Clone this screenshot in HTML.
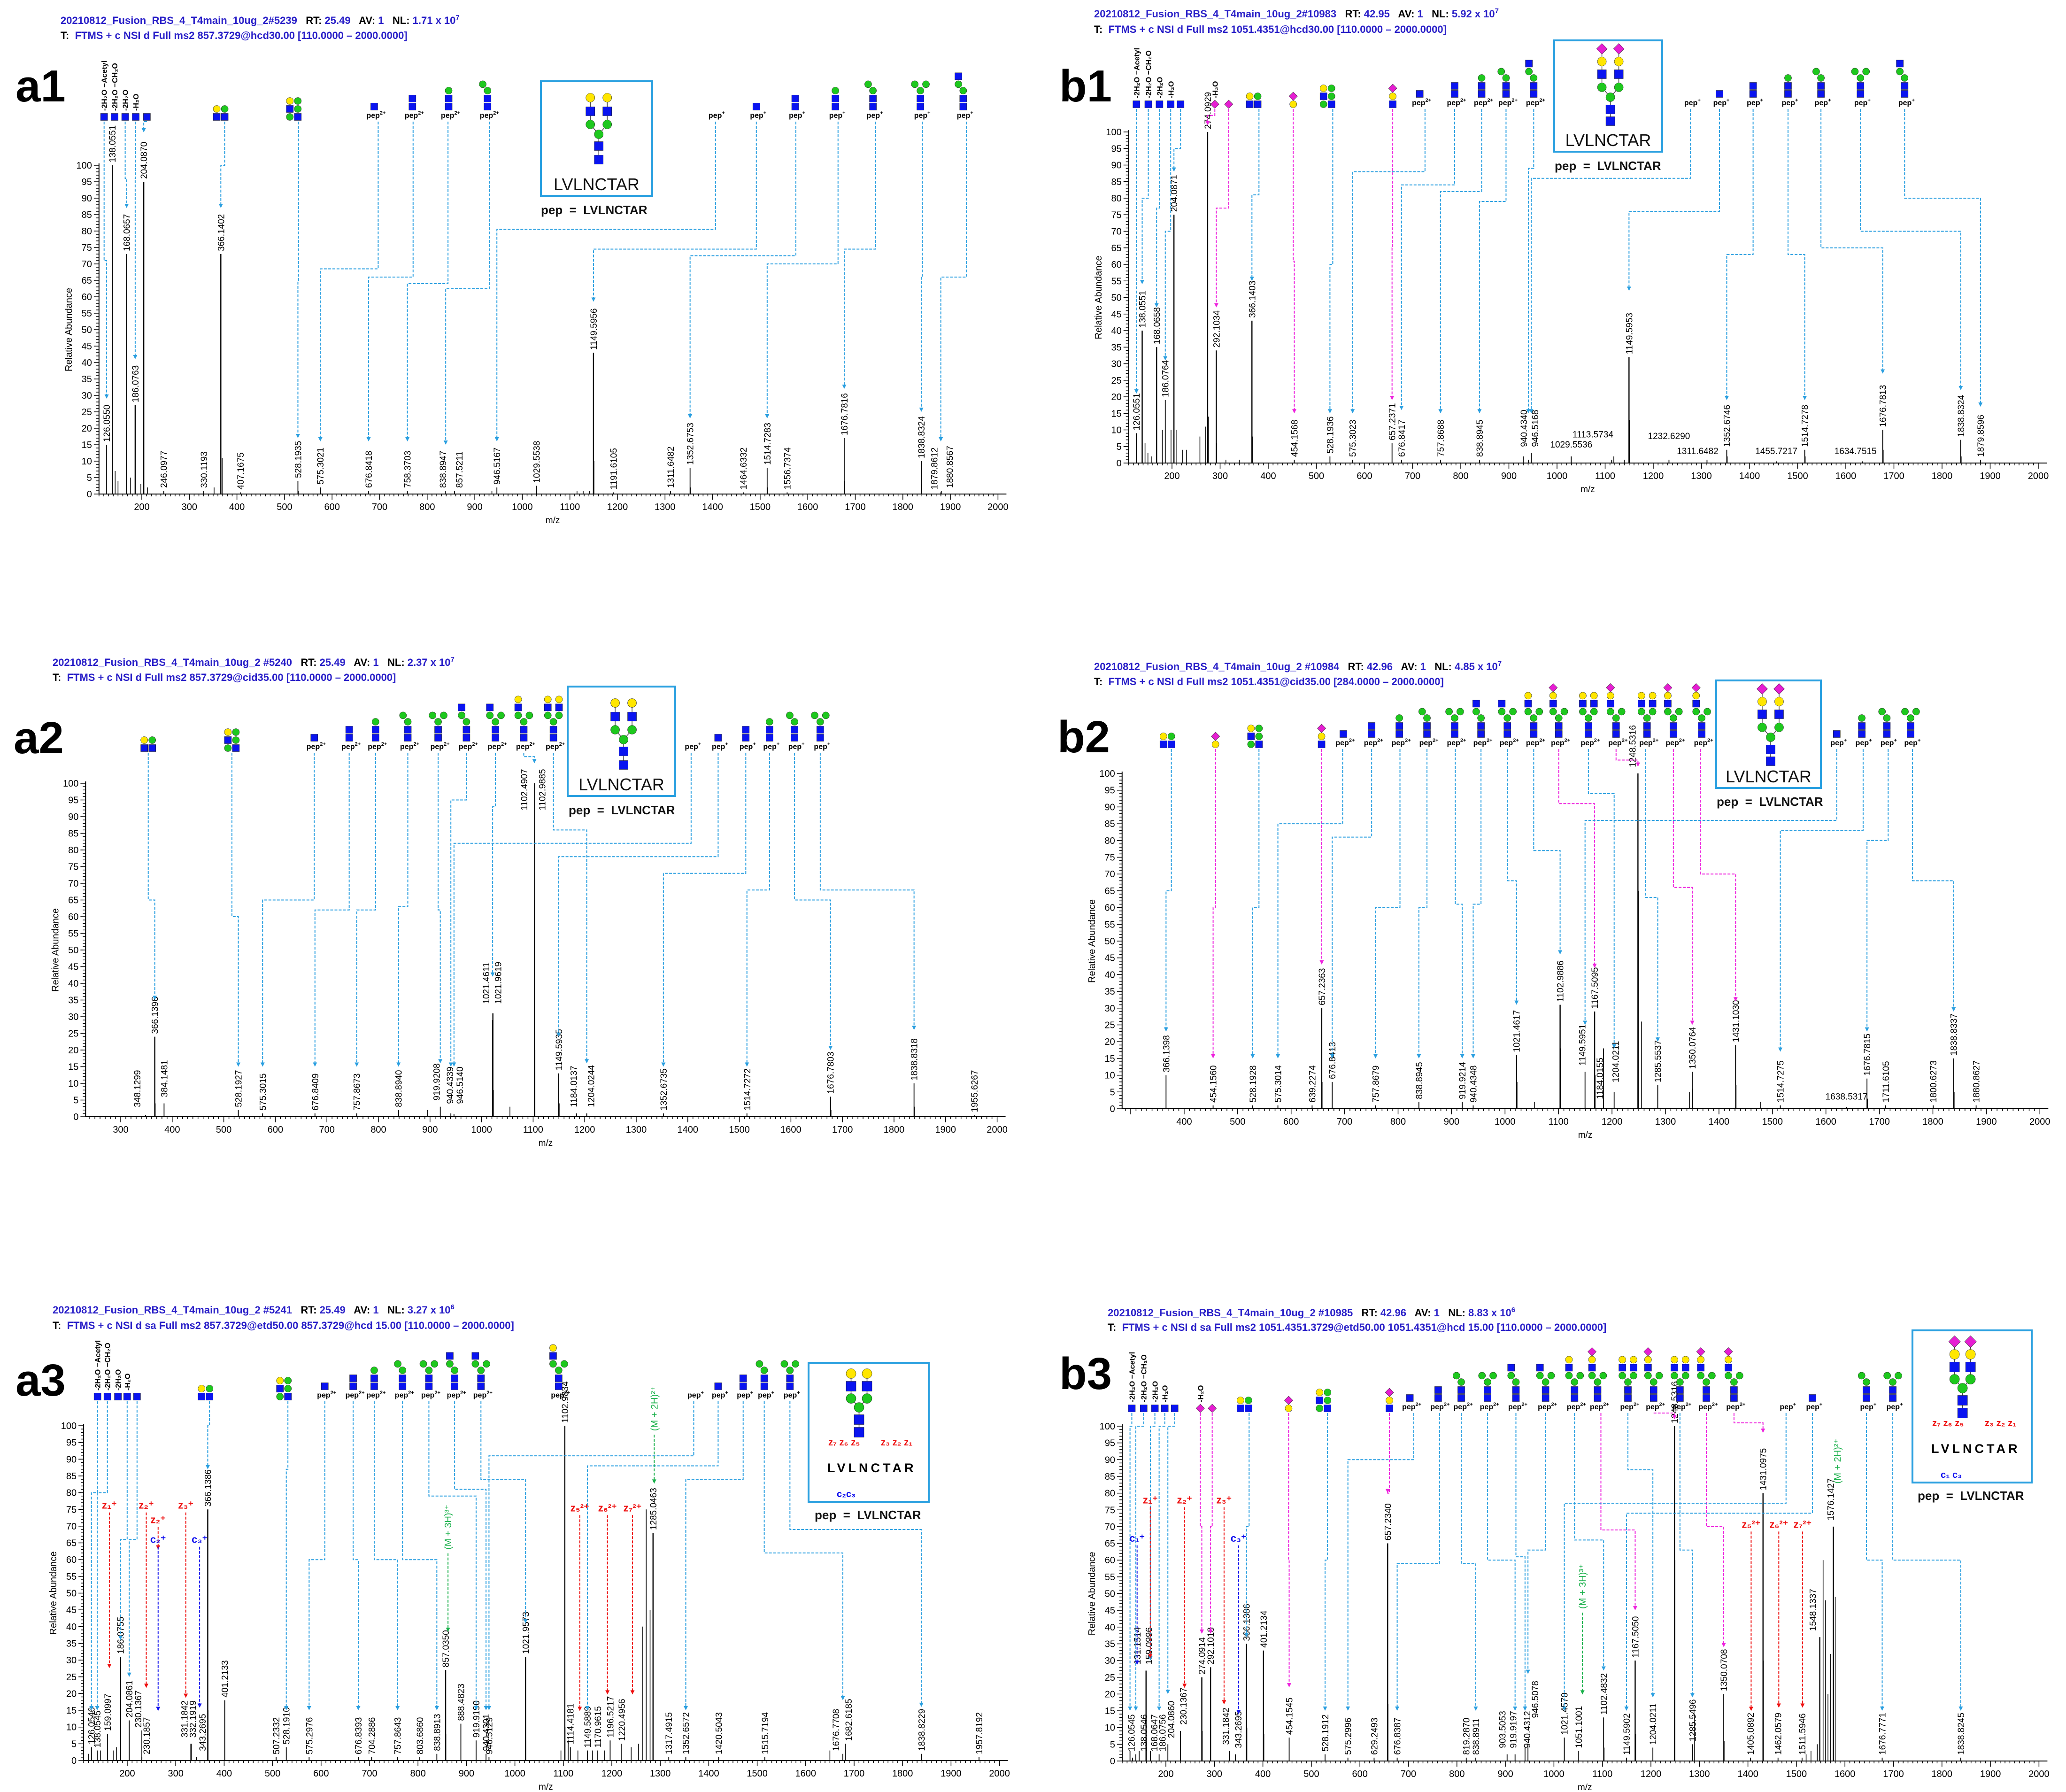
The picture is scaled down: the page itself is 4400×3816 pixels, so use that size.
<!DOCTYPE html>
<html><head><meta charset="utf-8"><title>Glycopeptide MS2 spectra</title>
<style>
html,body{margin:0;padding:0;background:#fff;}
svg{display:block;font-family:"Liberation Sans",Arial,sans-serif;}
.t{white-space:pre;}
</style></head>
<body>
<svg id="chart" xmlns="http://www.w3.org/2000/svg" width="4400" height="3816" viewBox="0 0 4400 3816">
<rect x="0" y="0" width="4400" height="3816" fill="#fff"/>
</svg>
<script>
// ---------- data: a1 ----------
const a1Mz=[126.0550,138.0551,168.0657,186.0763,204.0870,246.0977,330.1193,366.1402,407.1675,528.1935,575.3021,676.8418,758.3703,838.8947,857.5211,946.5167,1029.5538,1149.5956,1191.6105,1311.6482,1352.6753,1464.6332,1514.7283,1556.7374,1676.7816,1838.8324,1879.8612,1880.8567];
const a1Int=[15,100,73,27,95,1,1,73,0.5,4,2,1,1,1,1,2,2.5,43,0.5,1,8,0.5,8,0.5,17,10,0.5,1];
const a1MinorMz=[144,150,176,198,212,352,369,530,1150.6,1128,1141,1353.7,1515.7,1677.8,1839.8,1030,936,1115];
const a1MinorInt=[7,4,5,3,2,2,11,1,10,1,1,2,2,4,3,1,1,1];
// ---------- data: a2 ----------
const a2Mz=[348.1299,366.1396,384.1481,528.1927,575.3015,676.8409,757.8673,838.8940,919.9208,940.4339,946.5140,1021.4611,1021.9619,1102.4907,1102.9885,1149.5935,1184.0137,1204.0244,1352.6735,1514.7272,1676.7803,1838.8318,1955.6267];
const a2Int=[0.5,24,4,2,1,1,1,2,3,1,0.8,29,31,65,100,13,1,1,1,1,6,10,0.5];
const a2MinorMz=[895,1055,1103.5,1150.6,1022.9,1677.8,1839.8,367];
const a2MinorInt=[2,3,20,4,8,2,3,4];
// ---------- data: a3 ----------
const a3Mz=[126.0546,138.0545,159.0997,186.0755,204.0861,230.1367,230.1857,331.1842,332.1919,343.2695,366.1386,401.2133,507.2332,528.1910,575.2976,676.8393,704.2886,757.8643,803.6860,838.8913,857.0350,888.4823,919.9190,940.4301,946.5129,1021.9573,1102.9834,1114.4181,1149.5889,1170.9615,1196.5217,1220.4956,1285.0463,1317.4915,1352.6572,1420.5043,1515.7194,1676.7708,1682.6185,1838.8229,1957.8192];
const a3Int=[4,3,8,31,12,9,1,5,5,1,75,18,1,4,1,1,1,1,1,2,27,11,6,2,1,31,100,4,3,3,6,5,68,1,1,1,1,2,5,2,1];
const a3MinorMz=[1263,1271,1279,1255,1240,1185,1160,1103.5,1110,1095,366.8,857.5,1022.5,1650,145,172,178,120,1130];
const a3MinorInt=[40,75,45,5,4,3,3,10,6,3,15,8,6,3,3,3,4,2,3];
// ---------- data: b1 ----------
const b1Mz=[126.0551,138.0551,168.0658,186.0764,204.0871,274.0929,292.1034,366.1403,454.1568,528.1936,575.3023,657.2371,676.8417,757.8688,838.8945,940.4340,946.5168,1029.5536,1113.5734,1149.5953,1232.6290,1311.6482,1352.6746,1455.7217,1514.7278,1634.7515,1676.7813,1838.8324,1879.8596];
const b1Int=[9,40,35,19,75,100,34,43,1,2,1,6,1,1,1,1,3,2,1,32,1,1,4,0.5,4,0.5,10,7,1];
const b1MinorMz=[144,150,158,180,198,210,222,230,258,270,276,293,367,312,340,1150.6,1677.8,1839.8,1353.7,1515.7,1118,1140,930];
const b1MinorInt=[6,3,2,10,10,10,4,4,8,11,14,6,8,1,1,13,4,2,2,2,2,1,2];
// ---------- data: b2 ----------
const b2Mz=[366.1398,454.1560,528.1928,575.3014,639.2274,657.2363,676.8413,757.8679,838.8945,919.9214,940.4348,1021.4617,1102.9886,1149.5951,1167.5095,1184.0155,1204.0211,1248.5316,1285.5537,1350.0764,1431.1030,1514.7275,1638.5317,1676.7815,1711.6105,1800.6273,1838.8337,1880.8627];
const b2Int=[10,1,1,1,1,30,8,1,2,2,1,16,31,11,29,18,5,100,7,11,19,1,0.5,9,1,1,15,1];
const b2MinorMz=[1255,1345,1478,1103.5,1022.5,1249.5,1168.5,1350.6,1432,1677.8,1839.8,658,1055];
const b2MinorInt=[26,5,2,18,8,65,10,6,7,3,5,8,2];
// ---------- data: b3 ----------
const b3Mz=[126.0545,131.1514,138.0546,159.0996,168.0647,186.0756,204.0860,230.1367,274.0914,292.1018,331.1842,343.2695,366.1386,401.2134,454.1545,528.1912,575.2996,629.2493,657.2340,676.8387,819.2870,838.8911,903.5053,919.9197,940.4312,946.5078,1021.4570,1051.1001,1102.4832,1149.5902,1167.5050,1204.0211,1248.5316,1285.5496,1350.0708,1405.0892,1431.0975,1462.0579,1511.5946,1548.1337,1576.1427,1676.7771,1838.8245];
const b3Int=[3,1,2,27,3,2,5,9,25,28,3,2,35,33,7,2,1,1,65,1,1,1,2,2,4,5,7,3,13,1,30,4,100,5,20,1,80,1,1,37,70,1,1];
const b3MinorMz=[1555,1560,1570,1580,1543,1290,1249.5,1432,1168.5,1103.5,658,367,402,275,160,145,1351,1530,1520,1565];
const b3MinorInt=[60,48,32,49,5,14,60,30,8,4,17,10,8,9,6,3,6,3,2,20];

// ---------- annotation layout (label overrides: [dx px, height %]) ----------
const a1LabelAdj={'838.8947':[-6,1],'857.5211':[10,1],'1879.8612':[-14,0.5],'1880.8567':[18,1]};
const a2LabelAdj={'1102.4907':[-22,91],'1102.9885':[16,91],'1021.4611':[-14,33],'1021.9619':[11,33],'919.9208':[-8,4],'940.4339':[-2,3],'946.5140':[12,3],'1184.0137':[-6,2],'1204.0244':[9,2],'348.1299':[-18,2],'384.1481':[0,5]};
const a3LabelAdj={'230.1367':[-8,9],'230.1857':[10,1],'331.1842':[-14,6],'332.1919':[3,6],'343.2695':[12,2],'1676.7708':[-15,2],'1682.6185':[6,5]};
const b1LabelAdj={'940.4340':[-10,4],'946.5168':[8,4],'1029.5536':[0,4],'1113.5734':[-40,7],'1232.6290':[0,6.5],'1311.6482':[-20,2],'1455.7217':[0,2],'1634.7515':[-15,2]};
const b2LabelAdj={'1149.5951':[-6,12],'1184.0155':[-8,2],'1204.0211':[3,7],'1248.5316':[-12,101],'1638.5317':[0,2]};
const b3LabelAdj={'126.0545':[3,2],'131.1514':[10,28],'138.0546':[17,2],'159.0996':[6,28],'168.0647':[8,2],'186.0756':[7,2],'204.0860':[7,6],'230.1367':[6,10],'331.1842':[-8,4],'343.2695':[6,3],'903.5053':[-10,3],'919.9197':[-4,3],'940.4312':[4,3],'946.5078':[15,12],'1548.1337':[-15,38],'1576.1427':[-6,71]};
const b1Horiz=['1029.5536','1113.5734','1232.6290','1311.6482','1455.7217','1634.7515'];
const b2Horiz=['1638.5317'];

// icons: [zoom-x, template, ion label]
const a1Icons=[[158,'N',''],[174,'N',''],[190,'N',''],[206,'N',''],[223,'N',''],[335,'GG',''],[446,'G3',''],[568,'N','2+'],[626,'NN','2+'],[681,'NNM','2+'],[740,'NNMM','2+'],[1085,'','+'],[1148,'N','+'],[1207,'NN','+'],[1268,'NNM','+'],[1325,'NNMM','+'],[1397,'NN3M','+'],[1462,'NNMMN','+']];
const a2Icons=[[225,'GG',''],[352,'G3',''],[477,'N','2+'],[530,'NN','2+'],[570,'NNM','2+'],[619,'NNMM','2+'],[665,'NN3M','2+'],[708,'NNMMN','2+'],[752,'NN3MN','2+'],[795,'NN3MNY','2+'],[840,'BIGA','2+'],[1049,'','+'],[1090,'N','+'],[1132,'NN','+'],[1168,'NNM','+'],[1206,'NNMM','+'],[1245,'NN3M','+']];
const a3Icons=[[148,'N',''],[163,'N',''],[179,'N',''],[193,'N',''],[208,'N',''],[312,'GG',''],[431,'G3',''],[493,'N','2+'],[536,'NN','2+'],[568,'NNM','2+'],[611,'NNMM','2+'],[651,'NN3M','2+'],[690,'NNMMN','2+'],[730,'NN3MN','2+'],[848,'NN3MNY','2+'],[1053,'','+'],[1090,'N','+'],[1128,'NN','+'],[1160,'NNMM','+'],[1199,'NN3M','+']];
const b1Icons=[[157,'N',''],[175,'N',''],[192,'N',''],[209,'N',''],[224,'N',''],[276,'D',''],[297,'D',''],[335,'GG',''],[395,'DY',''],[447,'G3',''],[546,'DYN',''],[587,'N','2+'],[640,'NN','2+'],[681,'NNM','2+'],[718,'NNMM','2+'],[760,'NNMMN','2+'],[998,'','+'],[1042,'N','+'],[1093,'NN','+'],[1146,'NNM','+'],[1196,'NNMM','+'],[1256,'NN3M','+'],[1323,'NNMMN','+']];
const b2Icons=[[204,'GG',''],[277,'DY',''],[337,'G3',''],[438,'DYN',''],[471,'N','2+'],[514,'NN','2+'],[556,'NNM','2+'],[598,'NNMM','2+'],[640,'NN3M','2+'],[680,'NNMMN','2+'],[720,'NN3MN','2+'],[760,'NN3MNY','2+'],[798,'BIGS','2+'],[843,'BIGA','2+'],[885,'BIGS','2+'],[932,'BIGA','2+'],[972,'BIGS','2+'],[1015,'BIGS','2+'],[1220,'N','+'],[1258,'NNM','+'],[1296,'NNMM','+'],[1332,'NN3M','+']];
const b3Icons=[[150,'N',''],[168,'N',''],[185,'N',''],[200,'N',''],[215,'N',''],[254,'D',''],[272,'D',''],[321,'GG',''],[388,'DY',''],[441,'G3',''],[541,'DYN',''],[572,'N','2+'],[615,'NN','2+'],[650,'NNMM','2+'],[690,'NN3M','2+'],[733,'NNMMN','2+'],[778,'NN3MN','2+'],[822,'NN3MNY','2+'],[857,'BIGS','2+'],[903,'BIGA','2+'],[942,'BIGS','2+'],[982,'BIGA','2+'],[1022,'BIGS','2+'],[1064,'BIGS','2+'],[1143,'','+'],[1183,'N','+'],[1265,'NNMM','+'],[1305,'NN3M','+']];

// rotated neutral-loss texts: [zoom-x, text]
const a1Rot=[[158,'-2H₂O −Acetyl'],[174,'-2H₂O −CH₂O'],[190,'-2H₂O'],[206,'-H₂O']];
const a3Rot=[[148,'-2H₂O −Acetyl'],[163,'-2H₂O −CH₂O'],[179,'-2H₂O'],[193,'-H₂O']];
const b1Rot=[[157,'-2H₂O −Acetyl'],[175,'-2H₂O −CH₂O'],[192,'-2H₂O'],[209,'-H₂O'],[276,'-H₂O']];
const b3Rot=[[150,'-2H₂O −Acetyl'],[168,'-2H₂O −CH₂O'],[185,'-2H₂O'],[200,'-H₂O'],[254,'-H₂O']];

// connectors: [icon zoom-x, step %, target m/z, arrow end %, color]
const a1Conns=[[158,71,126.055,29,'b'],[190,96,168.0657,87,'b'],[206,96,186.0763,41,'b'],[223,120,204.087,110,'b'],[341,100,366.1402,87,'b'],[453,65,528.1935,17,'b'],[574,68.5,575.3021,16,'b'],[627,66,676.8418,16,'b'],[680,64,758.3703,16,'b'],[743,62.5,838.8947,15,'b'],[1086,80.5,946.5167,16,'b'],[1148,74.5,1149.5956,58.5,'b'],[1208,72.5,1352.6753,23,'b'],[1272,70,1514.7283,23,'b'],[1329,74.5,1676.7816,32,'b'],[1400,66,1838.8324,25,'b'],[1467,66,1879.8612,16,'b']];
const a2Conns=[[225,65,366.1396,35,'b'],[352,60,528.1927,15,'b'],[477,65,575.3015,15,'b'],[530,62,676.8409,15,'b'],[570,62,757.8673,15,'b'],[619,63,838.894,15,'b'],[665,62,919.9208,16,'b'],[708,95,940.4339,15,'b'],[752,93,1021.4611,42,'b'],[795,108,1102.4907,106,'b'],[840,86,1204.0244,16,'b'],[1049,82,946.514,15,'b'],[1090,78,1149.5935,24,'b'],[1132,73,1352.6735,15,'b'],[1168,68,1514.7272,15,'b'],[1206,65,1676.7803,20,'b'],[1245,68,1838.8318,26,'b']];
const a3Conns=[[148,80,126.0546,15,'b'],[163,80,138.0545,15,'b'],[193,66,186.0755,36,'b'],[208,66,204.0861,25,'b'],[318,100,366.1386,87,'b'],[437,87,528.191,15,'b'],[493,60,575.2976,15,'b'],[536,60,676.8393,15,'b'],[568,60,757.8643,15,'b'],[611,60,838.8913,15,'b'],[651,79,919.919,15,'b'],[690,81,940.4301,15,'b'],[730,84,1021.9573,41,'b'],[1053,91,946.5129,15,'b'],[1090,88,1149.5889,15,'b'],[1128,84,1352.6572,15,'b'],[1160,62,1676.7708,18,'b'],[1199,69,1838.8229,16,'b']];
const b1Conns=[[157,100,126.0551,21,'b'],[175,80,138.0551,54,'b'],[192,77,168.0658,47,'b'],[209,70,186.0764,31,'b'],[224,95,204.0871,88,'b'],[276,105,274.0929,102,'m'],[297,77,292.1034,47,'m'],[343,81,366.1403,55,'b'],[395,61,454.1568,15,'m'],[455,60,528.1936,15,'b'],[546,65,657.2371,19,'m'],[595,88,575.3023,15,'b'],[640,84,676.8417,16,'b'],[681,82,757.8688,15,'b'],[718,79,838.8945,15,'b'],[760,89,940.434,15,'b'],[998,86,946.5168,15,'b'],[1042,76,1149.5953,52,'b'],[1093,63,1352.6746,19,'b'],[1146,63,1514.7278,19,'b'],[1196,65,1676.7813,27,'b'],[1256,70,1838.8324,22,'b'],[1323,80,1879.8596,17,'b']];
const b2Conns=[[210,65,366.1398,23,'b'],[277,60,454.156,15,'m'],[343,60,528.1928,15,'b'],[438,75,657.2363,43,'m'],[470,85,575.3014,15,'b'],[514,81,676.8413,15,'b'],[557,60,757.8679,15,'b'],[598,60,838.8945,15,'b'],[641,61,919.9214,15,'b'],[680,61,940.4348,15,'b'],[720,68,1021.4617,31,'b'],[760,77,1102.9886,46,'b'],[798,91,1167.5095,42,'m'],[843,94,1204.0211,18,'b'],[885,104,1248.5316,102,'m'],[930,63,1285.5537,20,'b'],[972,66,1350.0764,25,'m'],[1013,70,1431.103,32,'m'],[1220,86,1149.5951,25,'b'],[1260,83,1514.7275,17,'b'],[1298,80,1676.7815,23,'b'],[1335,68,1838.8337,29,'b']];
const b3Conns=[[150,100,126.0545,15,'b'],[168,100,138.0546,15,'b'],[185,100,168.0647,30,'b'],[200,100,186.0756,15,'b'],[215,100,204.086,20,'b'],[254,70,274.0914,38,'m'],[272,70,292.1018,38,'m'],[328,70,366.1386,37,'b'],[388,60,454.1545,22,'m'],[447,60,528.1912,15,'b'],[541,80,657.234,80,'m'],[578,90,575.2996,15,'b'],[617,59,676.8387,15,'b'],[650,59,838.8911,15,'b'],[690,60,919.9197,15,'b'],[733,61,940.4312,15,'b'],[778,63,946.5078,26,'b'],[822,66,1102.4832,27,'b'],[862,69,1167.505,45,'m'],[903,87,1204.0211,19,'b'],[942,104,1248.5316,102,'m'],[982,63,1285.5496,19,'b'],[1022,70,1350.0708,34,'m'],[1064,101,1431.0975,98,'m'],[1143,77,1021.457,15,'b'],[1183,74,1149.5902,15,'b'],[1265,60,1676.7771,15,'b'],[1305,60,1838.8245,15,'b']];

// fragment annotations: [label, zoom-x, zoom-y top, zoom-y end, color, rotated]
const a3Frag=[['z₁⁺',166,1138,1380,'r',0],['z₂⁺',222,1138,1410,'r',0],['z₂⁺',240,1160,1200,'r',0],['c₂⁺',240,1190,1445,'c',0],['z₃⁺',282,1138,1425,'r',0],['c₃⁺',303,1190,1440,'c',0],['z₅²⁺',880,1142,1445,'r',0],['z₆²⁺',922,1142,1420,'r',0],['z₇²⁺',960,1142,1420,'r',0],['(M + 3H)³⁺',680,1200,1325,'g',1],['(M + 2H)²⁺',993,1020,1100,'g',1]];
const b3Frag=[['z₁⁺',178,1130,1365,'r',0],['c₁⁺',158,1188,1375,'c',0],['z₂⁺',230,1130,1410,'r',0],['z₃⁺',290,1130,1435,'r',0],['c₃⁺',312,1188,1450,'c',0],['z₅²⁺',1090,1167,1445,'r',0],['z₆²⁺',1132,1167,1440,'r',0],['z₇²⁺',1168,1167,1440,'r',0],['(M + 3H)³⁺',834,1290,1420,'g',1],['(M + 2H)²⁺',1221,1100,1100,'g',1]];

const TPL={
 'N':[['s',0,0]],
 'NN':[['s',0,0],['s',0,1]],
 'NNM':[['s',0,0],['s',0,1],['g',0,2]],
 'NNMM':[['s',0,0],['s',0,1],['g',0,2],['g',-0.6,2.8]],
 'NN3M':[['s',0,0],['s',0,1],['g',0,2],['g',-0.7,2.8],['g',0.7,2.8]],
 'NNMMN':[['s',0,0],['s',0,1],['g',0,2],['g',-0.6,2.8],['s',-0.6,3.8]],
 'NN3MN':[['s',0,0],['s',0,1],['g',0,2],['g',-0.7,2.8],['g',0.7,2.8],['s',-0.7,3.8]],
 'NN3MNY':[['s',0,0],['s',0,1],['g',0,2],['g',-0.7,2.8],['g',0.7,2.8],['s',-0.7,3.8],['y',-0.7,4.8]],
 'BIGA':[['s',0,0],['s',0,1],['g',0,2],['g',-0.7,2.8],['g',0.7,2.8],['s',-0.7,3.8],['s',0.7,3.8],['y',-0.7,4.8],['y',0.7,4.8]],
 'BIGS':[['s',0,0],['s',0,1],['g',0,2],['g',-0.7,2.8],['g',0.7,2.8],['s',-0.7,3.8],['y',-0.7,4.8],['d',-0.7,5.8]],
 'GG':[['s',-0.5,0],['s',0.5,0],['y',-0.5,1],['g',0.5,1]],
 'G3':[['g',-0.5,0],['s',0.5,0],['s',-0.5,1],['g',0.5,1],['y',-0.5,2],['g',0.5,2]],
 'D':[['d',0,0]],
 'DY':[['y',0,0],['d',0,1]],
 'DYN':[['s',0,0],['y',0,1],['d',0,2]],
 '':[]
};

const panels=[
 {id:'a1',x200:302,per100:101.3,y0:1052,y100:352,mzMin:110,zx:0,zy:0,iconY:249,
  file:'20210812_Fusion_RBS_4_T4main_10ug_2#5239',rt:'25.49',nl:'1.71',ex:'7',scan:'FTMS + c NSI d Full ms2 857.3729@hcd30.00 [110.0000 – 2000.0000]',
  tx:129,ty1:51,ty2:83,lab:'a1',lx:33,ly:216,box:[1152,173,237,244],sia:false,frag:false,pep:[1152,456],
  mz:a1Mz,int:a1Int,mmz:a1MinorMz,mint:a1MinorInt,adj:a1LabelAdj,horiz:[],icons:a1Icons,rot:a1Rot,conns:a1Conns,frags:null},
 {id:'a2',x200:147.2,per100:109.8,y0:2378,y100:1668,mzMin:232,zx:0,zy:0,iconY:1593,
  file:'20210812_Fusion_RBS_4_T4main_10ug_2 #5240',rt:'25.49',nl:'2.37',ex:'7',scan:'FTMS + c NSI d Full ms2 857.3729@cid35.00 [110.0000 – 2000.0000]',
  tx:112,ty1:1418,ty2:1450,lab:'a2',lx:29,ly:1604,box:[1209,1462,229,233],sia:false,frag:false,pep:[1211,1734],
  mz:a2Mz,int:a2Int,mmz:a2MinorMz,mint:a2MinorInt,adj:a2LabelAdj,horiz:[],icons:a2Icons,rot:[],conns:a2Conns,frags:null},
 {id:'a3',x200:271,per100:103.2,y0:3749,y100:3036,mzMin:110,zx:0,zy:1616,iconY:2974,
  file:'20210812_Fusion_RBS_4_T4main_10ug_2 #5241',rt:'25.49',nl:'3.27',ex:'6',scan:'FTMS + c NSI d sa Full ms2 857.3729@etd50.00 857.3729@hcd 15.00 [110.0000 – 2000.0000]',
  tx:112,ty1:2797,ty2:2830,lab:'a3',lx:33,ly:2972,box:[1722,2902,256,296],sia:false,frag:true,pep:[1735,3235],
  mz:a3Mz,int:a3Int,mmz:a3MinorMz,mint:a3MinorInt,adj:a3LabelAdj,horiz:[],icons:a3Icons,rot:a3Rot,conns:a3Conns,frags:a3Frag},
 {id:'b1',x200:2496,per100:102.5,y0:986,y100:281,mzMin:110,zx:2200,zy:0,iconY:222,
  file:'20210812_Fusion_RBS_4_T4main_10ug_2#10983',rt:'42.95',nl:'5.92',ex:'7',scan:'FTMS + c NSI d Full ms2 1051.4351@hcd30.00 [110.0000 – 2000.0000]',
  tx:2330,ty1:37,ty2:70,lab:'b1',lx:2256,ly:216,box:[3310,86,230,237],sia:true,frag:false,pep:[3311,362],
  mz:b1Mz,int:b1Int,mmz:b1MinorMz,mint:b1MinorInt,adj:b1LabelAdj,horiz:b1Horiz,icons:b1Icons,rot:b1Rot,conns:b1Conns,frags:null},
 {id:'b2',x200:2294.1,per100:113.9,y0:2361,y100:1647,mzMin:284,zx:2200,zy:0,iconY:1585,
  file:'20210812_Fusion_RBS_4_T4main_10ug_2 #10984',rt:'42.96',nl:'4.85',ex:'7',scan:'FTMS + c NSI d Full ms2 1051.4351@cid35.00 [284.0000 – 2000.0000]',
  tx:2330,ty1:1427,ty2:1459,lab:'b2',lx:2252,ly:1602,box:[3655,1449,223,229],sia:true,frag:false,pep:[3656,1716],
  mz:b2Mz,int:b2Int,mmz:b2MinorMz,mint:b2MinorInt,adj:b2LabelAdj,horiz:b2Horiz,icons:b2Icons,rot:[],conns:b2Conns,frags:null},
 {id:'b3',x200:2483,per100:103.3,y0:3750,y100:3037,mzMin:110,zx:2200,zy:1616,iconY:2999,
  file:'20210812_Fusion_RBS_4_T4main_10ug_2 #10985',rt:'42.96',nl:'8.83',ex:'6',scan:'FTMS + c NSI d sa Full ms2 1051.4351.3729@etd50.00 1051.4351@hcd 15.00 [110.0000 – 2000.0000]',
  tx:2359,ty1:2803,ty2:2834,lab:'b3',lx:2256,ly:2958,box:[4073,2833,254,324],sia:true,frag:true,pep:[4084,3194],
  mz:b3Mz,int:b3Int,mmz:b3MinorMz,mint:b3MinorInt,adj:b3LabelAdj,horiz:[],icons:b3Icons,rot:b3Rot,conns:b3Conns,frags:b3Frag}
];

const NS='http://www.w3.org/2000/svg';
const svg=document.getElementById('chart');
const ZF=1/0.7127;
const BLUE='#2a20c8', CON='#2a9fe0', MAG='#ee22dd';
const COL={r:'#ee1111',c:'#1010ee',g:'#19b04a',b:CON,m:MAG};
function mk(tag,attrs,parent){const e=document.createElementNS(NS,tag);for(const k in attrs)e.setAttribute(k,attrs[k]);parent.appendChild(e);return e;}

function shape(g,kind,cx,cy,sz){
  let e;
  if(kind==='s'){e=mk('rect',{x:cx-sz/2,y:cy-sz/2,width:sz,height:sz,fill:'#0a14f0',stroke:'#222','stroke-width':0.6},g);}
  else if(kind==='g'){e=mk('circle',{cx:cx,cy:cy,r:sz/2,fill:'#1ec81e',stroke:'#222','stroke-width':0.6},g);}
  else if(kind==='y'){e=mk('circle',{cx:cx,cy:cy,r:sz/2,fill:'#ffe600',stroke:'#222','stroke-width':0.6},g);}
  else {const h=sz*0.6;e=mk('polygon',{points:(cx)+','+(cy-h)+' '+(cx+h)+','+cy+' '+cx+','+(cy+h)+' '+(cx-h)+','+cy,fill:'#e61ed2',stroke:'#222','stroke-width':0.6},g);}
  
  
}
function arrow(g,x,y,col){
  const a=mk('polygon',{points:(x-4.5)+','+(y-9)+' '+(x+4.5)+','+(y-9)+' '+x+','+y,fill:col},g);
  
  
}

function draw(p){
  const g=mk('g',{},svg);
  
  
  const X=mz=>p.x200+(mz-200)*p.per100/100;
  const Y=v=>p.y0-v*(p.y0-p.y100)/100;
  const xl=X(p.mzMin), xr=X(2000)+18;

  const t1=mk('text',{x:p.tx,y:p.ty1,'font-size':22,'font-weight':'bold',class:'t'},g);
  
  
  const segs=[[p.file,BLUE],['   RT: ','#000'],[p.rt,BLUE],['   AV: ','#000'],['1',BLUE],['   NL: ','#000'],[p.nl+' x 10',BLUE]];
  segs.forEach(s=>{const ts=mk('tspan',{fill:s[1]},t1);ts.textContent=s[0];});
  const sup=mk('tspan',{fill:BLUE,dy:-9,'font-size':15},t1);sup.textContent=p.ex;
  const t2=mk('text',{x:p.tx,y:p.ty2,'font-size':22,'font-weight':'bold',class:'t'},g);
  
  
  const tT=mk('tspan',{fill:'#000'},t2);tT.textContent='T:  ';
  const tS=mk('tspan',{fill:BLUE},t2);tS.textContent=p.scan;

  const lab=mk('text',{x:p.lx,y:p.ly,'font-size':96,'font-weight':'bold',fill:'#000'},g);
  lab.textContent=p.lab;
  
  

  const ax=mk('path',{d:'M'+xl+' '+(p.y100-4)+' V'+p.y0+' H'+xr,stroke:'#000','stroke-width':2,fill:'none'},g);
  
  
  let td='';
  for(let v=0;v<=100;v++){const y=Y(v);td+='M'+xl+' '+y+'h'+(v%5===0?-11:-6);}
  const firstM=Math.ceil(p.mzMin/10)*10;
  for(let m=firstM;m<=2000;m+=10){const x=X(m);td+='M'+x+' '+p.y0+'v'+(m%100===0?12:5);}
  const tk=mk('path',{d:td,stroke:'#000','stroke-width':1.5,fill:'none'},g);
  
  
  for(let v=0;v<=100;v+=5){
    const tl=mk('text',{x:xl-15,y:Y(v)+7,'font-size':20,'text-anchor':'end',fill:'#000'},g);
    tl.textContent=String(v);
    
    
  }
  for(let m=Math.ceil((p.mzMin+50)/100)*100;m<=2000;m+=100){
    const tl=mk('text',{x:X(m),y:p.y0+34,'font-size':20,'text-anchor':'middle',fill:'#000'},g);
    tl.textContent=String(m);
    
    
  }
  const xt=mk('text',{x:(xl+xr)/2,y:p.y0+62,'font-size':19,'text-anchor':'middle',fill:'#000'},g);
  xt.textContent='m/z';
  
  
  const yc=(p.y0+p.y100)/2, yx=xl-58;
  const yt=mk('text',{x:yx,y:yc,'font-size':20,'text-anchor':'middle',fill:'#000',transform:'rotate(-90 '+yx+' '+yc+')'},g);
  yt.textContent='Relative Abundance';
  
  

  for(let i=0;i<p.mmz.length;i++){
    const ln=mk('line',{x1:X(p.mmz[i]),x2:X(p.mmz[i]),y1:p.y0,y2:Y(p.mint[i]),stroke:'#111','stroke-width':1.6},g);
    
    
  }
  for(let i=0;i<p.mz.length;i++){
    const x=X(p.mz[i]);
    const ln=mk('line',{x1:x,x2:x,y1:p.y0,y2:Y(p.int[i]),stroke:'#000','stroke-width':p.int[i]>20?2.4:1.8},g);
    
    
    const key=p.mz[i].toFixed(4);
    const ad=p.adj[key];
    const dx=ad?ad[0]:0, pct=ad?ad[1]:p.int[i];
    let lt;
    if(p.horiz.indexOf(key)>=0){
      lt=mk('text',{x:x+dx,y:Y(pct)-5,'font-size':19,'text-anchor':'middle',fill:'#000'},g);
    } else {
      const lx=x+dx+7, ly=Y(pct)-6;
      lt=mk('text',{x:lx,y:ly,'font-size':19,fill:'#000',transform:'rotate(-90 '+lx+' '+ly+')'},g);
    }
    lt.textContent=key;
    
    
  }

  p.conns.forEach(c=>{
    const x1=p.zx+c[0]*ZF, xt2=X(c[2]);
    const ytop=p.iconY+10;
    const ys=Math.max(Y(c[1]),ytop), ye=Y(c[3]);
    const col=COL[c[4]];
    const pa=mk('path',{d:'M'+x1+' '+ytop+' V'+ys+' H'+xt2+' V'+(ye-8),stroke:col,'stroke-width':2,'stroke-dasharray':'6 3',fill:'none'},g);
    
    
    arrow(g,xt2,ye,col);
  });

  p.icons.forEach(ic=>{
    const x=p.zx+ic[0]*ZF;
    const gi=mk('g',{},g);
    
    
    let base=p.iconY;
    if(ic[2]){
      const tl=mk('text',{x:x+4,y:p.iconY+2,'font-size':16,'font-weight':'bold','text-anchor':'middle',fill:'#000'},gi);
      
      
      const a=mk('tspan',{},tl);a.textContent='pep';
      const b=mk('tspan',{dy:-7,'font-size':11},tl);b.textContent=ic[2];
      base=p.iconY-22;
    }
    TPL[ic[1]].forEach(s=>shape(gi,s[0],x+s[1]*17,base-s[2]*17,15));
  });
  p.rot.forEach(r=>{
    const x=p.zx+r[0]*ZF+6, y=p.iconY-13;
    const tr=mk('text',{x:x,y:y,'font-size':16,'font-weight':'bold',fill:'#000',transform:'rotate(-90 '+x+' '+y+')'},g);
    tr.textContent=r[1];
    
    
  });

  if(p.frags){p.frags.forEach(f=>{
    const x=p.zx+f[1]*ZF, yT=p.zy+f[2]*ZF, yE=p.zy+f[3]*ZF, col=COL[f[4]];
    let tl;
    if(f[5]){tl=mk('text',{x:x+7,y:yT,'font-size':20,fill:col,transform:'rotate(-90 '+(x+7)+' '+yT+')'},g);}
    else{tl=mk('text',{x:x,y:yT,'font-size':22,'font-weight':'bold','text-anchor':'middle',fill:col},g);}
    tl.textContent=f[0];
    
    
    if(yE>yT+20){
      const fl=mk('path',{d:'M'+x+' '+(yT+8)+' V'+(yE-8),stroke:col,'stroke-width':2,'stroke-dasharray':'6 3',fill:'none'},g);
      
      
      arrow(g,x,yE,col);
    }
  });}

  // inset
  const [bx,by,bw,bh]=p.box;
  const gb=mk('g',{},g);
  
  
  const rb=mk('rect',{x:bx,y:by,width:bw,height:bh,fill:'#fff',stroke:'#2aa0e0','stroke-width':4},gb);
  
  
  const cx=bx+bw*0.52-(p.frag?bw*0.1:0);
  let L;
  if(p.frag) L=p.sia?[51,78,104,123,149,176]:[23,50,76,95,121,148];
  else L=p.sia?[45,72,100,121,147,172]:[35,64,92,113,138,167];
  const arm=p.frag?17:18, S=p.frag?21:19;
  const topY=by+L[0]-(p.sia?27:0);
  const st=mk('path',{d:'M'+cx+' '+(by+L[5])+' V'+(by+L[3])+' L'+(cx-arm)+' '+(by+L[2])+' V'+topY+' M'+cx+' '+(by+L[3])+' L'+(cx+arm)+' '+(by+L[2])+' V'+topY,stroke:'#444','stroke-width':1.5,fill:'none'},gb);
  
  
  [-arm,arm].forEach(a=>{
    if(p.sia)shape(gb,'d',cx+a,by+L[0]-27,S);
    shape(gb,'y',cx+a,by+L[0],S);
    shape(gb,'s',cx+a,by+L[1],S);
    shape(gb,'g',cx+a,by+L[2],S);
  });
  shape(gb,'g',cx,by+L[3],S);
  shape(gb,'s',cx,by+L[4],S);
  shape(gb,'s',cx,by+L[5],S);
  if(!p.frag){
    const lt=mk('text',{x:bx+bw/2,y:by+bh-12,'font-size':36,'text-anchor':'middle',fill:'#111'},gb);
    lt.textContent='LVLNCTAR';
    
    
  } else {
    const zy=by+L[5]+28, sy=by+L[5]+85, cy=by+L[5]+138;
    const zl=mk('text',{x:bx+42,y:zy,'font-size':20,'font-weight':'bold',fill:'#ee1111',class:'t'},gb);
    zl.textContent='z₇ z₆ z₅        z₃ z₂ z₁';
    
    
    const sq=mk('text',{x:bx+40,y:sy,'font-size':27,'font-weight':'bold',fill:'#000','letter-spacing':6},gb);
    sq.textContent='LVLNCTAR';
    
    
    const cl=mk('text',{x:bx+60,y:cy,'font-size':20,'font-weight':'bold',fill:'#1010ee'},gb);
    cl.textContent=p.id==='a3'?'c₂c₃':'c₁  c₃';
    
    
  }
  const pt=mk('text',{x:p.pep[0],y:p.pep[1],'font-size':26,'font-weight':'bold',fill:'#111',class:'t'},g);
  pt.textContent='pep  =  LVLNCTAR';
  
  
}
panels.forEach(draw);
</script>
</body></html>
